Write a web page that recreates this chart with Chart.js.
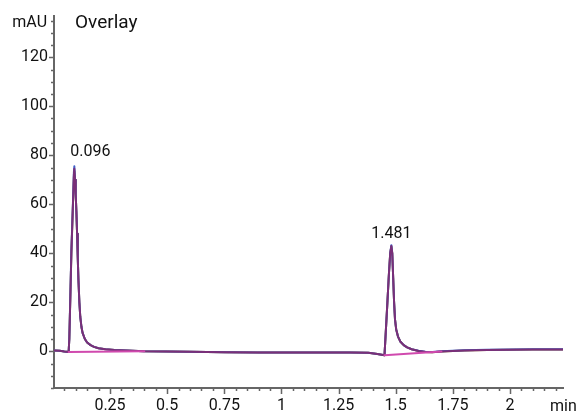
<!DOCTYPE html>
<html>
<head>
<meta charset="utf-8">
<script src="https://cdn.jsdelivr.net/npm/chart.js@4"></script>
<style>
html,body{margin:0;padding:0;background:#fff;}
#wrap{width:580px;height:414px;position:relative;}
</style>
</head>
<body>
<div id="wrap"><canvas id="c" width="580" height="414"></canvas></div>
<script>
// ---- data ----
const times = [0.005,0.03,0.05,0.069,0.072,0.076,0.081,0.088,0.092,0.094,0.097,0.100,0.103,0.106,0.109,0.112,0.116,0.12,0.125,0.13,0.14,0.15,0.165,0.18,0.2,0.23,0.27,0.32,0.4,0.5,0.6,0.75,0.9,1.0,1.15,1.3,1.38,1.42,1.451,1.462,1.470,1.476,1.481,1.485,1.489,1.493,1.497,1.502,1.51,1.52,1.535,1.55,1.57,1.6,1.63,1.66,1.7,1.75,1.8,1.9,2.0,2.1,2.23];
const tracePurple = [0.3,0.2,-0.1,-0.3,5,20,40,60,72,74.5,70,64,57,48,38,29,20,14,10,7.5,5,3.6,2.5,1.8,1.2,0.8,0.5,0.3,0.0,-0.1,-0.2,-0.4,-0.5,-0.5,-0.5,-0.5,-0.6,-1.1,-1.6,17,31,40,43,40,30,20,13,9,6,4,2.5,1.6,0.8,0.1,-0.3,-0.4,-0.1,0.1,0.3,0.5,0.6,0.7,0.7];
const traceBlue   = [0.3,0.2,-0.1,-0.3,5,21,41,61,73,75.5,70,64,57,48,38,29,20,14,10,7.5,5,3.6,2.5,1.8,1.2,0.8,0.5,0.3,0.0,-0.1,-0.2,-0.4,-0.5,-0.5,-0.5,-0.5,-0.6,-1.1,-1.6,17,31,40,43.3,40,30,20,13,9,6,4,2.5,1.6,0.8,0.2,-0.2,-0.3,0.0,0.2,0.4,0.6,0.7,0.8,0.8];
const traceOlive  = [0.3,0.2,-0.1,-0.3,5,20,40,60,71,73.5,70,64,57,48,38,29,20,14,10,7.5,5,3.6,2.5,1.8,1.2,0.8,0.5,0.3,0.0,-0.1,-0.2,-0.4,-0.5,-0.5,-0.5,-0.5,-0.6,-1.1,-1.6,17,31,40,42.7,40,30,20,13,9,6,4,2.5,1.6,0.8,0.1,-0.3,-0.4,-0.1,0.1,0.3,0.5,0.6,0.7,0.7];
const baseline1Times = [0.069, 0.40];
const baseline1Values = [-0.3, 0.0];
const baseline2Times = [1.451, 1.70];
const baseline2Values = [-1.6, -0.1];
const peakTimes = [0.094, 1.481];
const peakHeights = [74.5, 43];
const peakLabels = ["0.096", "1.481"];
const yTickValues = [0,20,40,60,80,100,120];
const xTickValues = [0.25,0.5,0.75,1,1.25,1.5,1.75,2];
const xTickLabels = ["0.25","0.5","0.75","1","1.25","1.5","1.75","2"];
const yUnit = "mAU";
const xUnit = "min";
const title = "Overlay";

const FONT = "Roboto,'Liberation Sans',sans-serif";
const pts = (xs, ys) => xs.map((x,i)=>({x:x, y:ys[i]}));

const decor = {
  id:'decor',
  afterDraw(chart){
    const ctx = chart.ctx, xs = chart.scales.x, ys = chart.scales.y, ca = chart.chartArea;
    ctx.save();
    ctx.strokeStyle = '#666';
    ctx.lineWidth = 1.5;
    ctx.beginPath();
    for (let v = -15; v <= 135; v += 5) {
      const p = Math.round(ys.getPixelForValue(v)) + 0.5;
      const len = (v % 20 === 0) ? 5 : 3;
      ctx.moveTo(ca.left, p); ctx.lineTo(ca.left - len, p);
    }
    for (let k = 1; k <= 44; k++) {
      const v = k * 0.05;
      const p = Math.round(xs.getPixelForValue(v)) + 0.5;
      const len = (k % 5 === 0) ? 6 : 3;
      ctx.moveTo(p, ca.bottom); ctx.lineTo(p, ca.bottom + len);
    }
    ctx.stroke();
    ctx.fillStyle = '#111';
    ctx.font = '16px ' + FONT;
    ctx.textBaseline = 'alphabetic';
    ctx.textAlign = 'right';
    ctx.fillText(yUnit, 47, 27);
    ctx.textAlign = 'left';
    ctx.font = '19px ' + FONT;
    ctx.fillText(title, 75, 28);
    ctx.font = '16px ' + FONT;
    ctx.fillText(xUnit, 550, 411);
    const offs = [16, 0];
    const gaps = [13, 8];
    peakTimes.forEach((t,i)=>{
      const px = xs.getPixelForValue(t) + offs[i];
      const py = ys.getPixelForValue(peakHeights[i]) - gaps[i];
      ctx.textAlign = 'center';
      ctx.fillText(peakLabels[i], px, py);
    });
    ctx.restore();
  }
};

const lineDs = (data, color) => ({data, borderColor:color, borderWidth:2, pointRadius:0, tension:0, borderJoinStyle:'round', borderCapStyle:'round'});

new Chart(document.getElementById('c'), {
  type:'line',
  data:{
    datasets:[
      lineDs(pts(baseline1Times, baseline1Values), '#d04aae'),
      lineDs(pts(baseline2Times, baseline2Values), '#d04aae'),
      lineDs(pts(times, tracePurple), '#7a2f78'),
      lineDs(pts(times, traceBlue), '#3f5fc8'),
      lineDs(pts(times, traceOlive), '#a08a3a')
    ]
  },
  options:{
    responsive:false,
    animation:false,
    events:[],
    layout:{padding:{left:0, top:12, right:17, bottom:0}},
    plugins:{legend:{display:false}, tooltip:{enabled:false}},
    scales:{
      x:{
        type:'linear', min:0.005, max:2.232,
        afterBuildTicks(s){ s.ticks = xTickValues.map(v=>({value:v})); },
        afterFit(s){ s.height = 26; },
        ticks:{
          callback:(v)=>{ const i = xTickValues.indexOf(v); return i>=0 ? xTickLabels[i] : ''; },
          color:'#111', font:{family:FONT, size:16}, padding:8, maxRotation:0, autoSkip:false
        },
        grid:{display:true, drawOnChartArea:false, drawTicks:false},
        border:{display:true, color:'#666', width:2}
      },
      y:{
        type:'linear', min:-15, max:137,
        afterBuildTicks(s){ s.ticks = yTickValues.map(v=>({value:v})); },
        afterFit(s){ s.width = 54; },
        ticks:{
          callback:(v)=>String(v),
          color:'#111', font:{family:FONT, size:16}, padding:6
        },
        grid:{display:true, drawOnChartArea:false, drawTicks:false},
        border:{display:true, color:'#666', width:2}
      }
    }
  },
  plugins:[decor]
});
</script>
</body>
</html>
